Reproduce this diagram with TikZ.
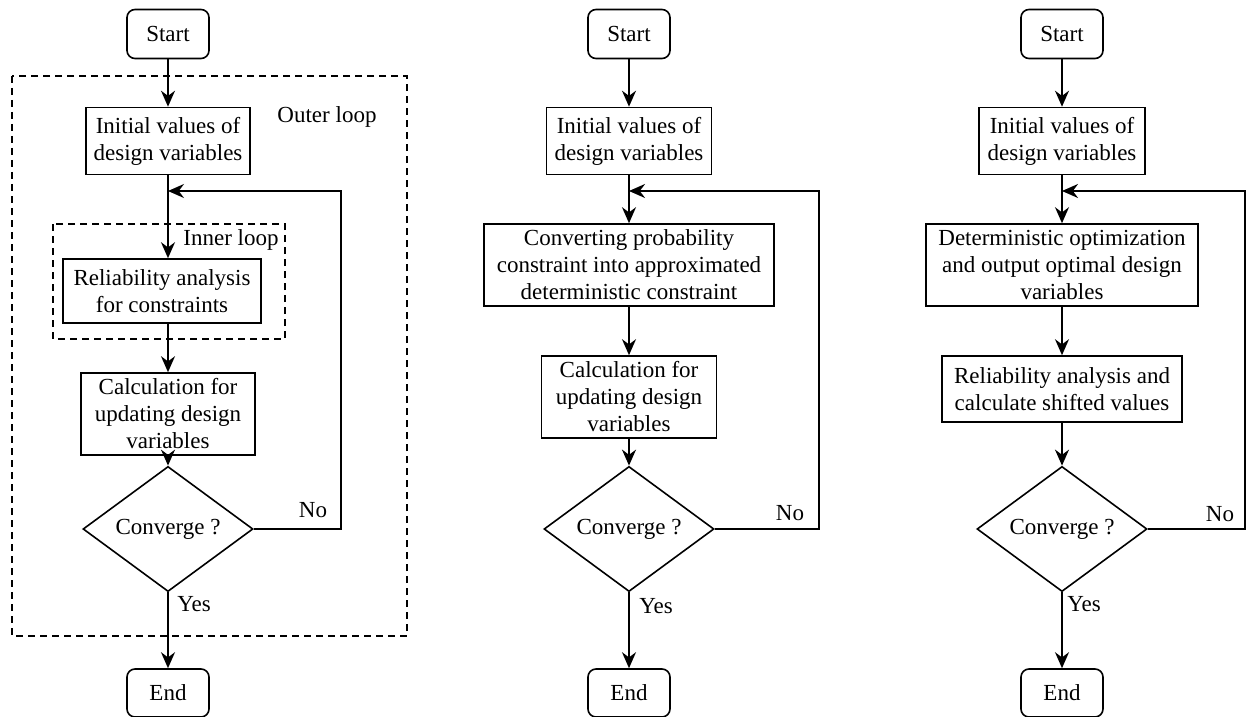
\documentclass[tikz,border=0pt]{standalone}
\usepackage{fontspec}
\setmainfont{Liberation Serif}
\usetikzlibrary{shapes.geometric,arrows.meta}

\begin{document}
\begin{tikzpicture}[x=0.5pt,y=-0.5pt,
  every node/.style={font=\fontsize{11.5}{13.5}\selectfont, align=center, inner sep=1pt},
  procbox/.style={draw, line width=0.8pt, rectangle, minimum width=#1, inner sep=2pt},
  procbox/.default=80pt,
  termbox/.style={draw, line width=0.8pt, rounded corners=4pt, minimum width=41pt, minimum height=24.5pt},
  decide/.style={draw, line width=0.8pt, diamond, minimum width=85pt, minimum height=41pt, inner sep=0pt},
  flow/.style={line width=0.9pt, -{Stealth[length=8pt,width=7pt,inset=2.6pt]}},
  loopframe/.style={line width=0.6pt, dash pattern=on 3.5pt off 2.5pt},
  tag/.style={inner sep=0pt}
]
\useasboundingbox (0,0) rectangle (1248,717);

% ---------- Column 1: double loop ----------
\node[termbox] (s1) at (168,34) {Start};
\node[procbox=82pt, minimum height=33.5pt] (i1) at (168,141) {Initial values of\\design variables};
\node[procbox=99pt, minimum height=32pt] (r1) at (162,291) {Reliability analysis\\for constraints};
\node[procbox=87pt, minimum height=41pt] (c1) at (168,414) {Calculation for\\updating design\\variables};
\node[decide] (d1) at (168,529) {Converge ?};
\node[termbox, minimum height=24pt] (e1) at (168,693) {End};
\coordinate (j1) at (168,191);
\coordinate (f1) at (341,191);

\draw[loopframe] (12,76) rectangle (407,636);
\draw[loopframe] (53,224) rectangle (285,339);
\node[tag] (ol) at (327,117) {Outer loop};
\node[tag] (il) at (231,240) {Inner loop};

\draw[flow] (s1) -- (i1);
\draw[flow] (i1.south) -- (r1.north -| i1.south);
\draw[flow] (r1.south -| c1.north) -- (c1.north);
\draw[flow] (c1) -- (d1);
\draw[flow] (d1) -- (e1);
\draw[flow] (d1.east) -| (f1) -- (j1);
\node[tag] (n1) at (313,510) {No};
\node[tag, anchor=west] (y1) at (177,604) {Yes};

% ---------- Column 2: single loop ----------
\node[termbox] (s2) at (629,34) {Start};
\node[procbox=82.5pt, minimum height=33.5pt] (i2) at (629,141) {Initial values of\\design variables};
\node[procbox=145pt, minimum height=41pt] (v2) at (629,265) {Converting probability\\constraint into approximated\\deterministic constraint};
\node[procbox=87.5pt, minimum height=41pt] (c2) at (629,397) {Calculation for\\updating design\\variables};
\node[decide] (d2) at (629,529) {Converge ?};
\node[termbox, minimum height=24pt] (e2) at (629,693) {End};
\coordinate (j2) at (629,191);
\coordinate (f2) at (819,191);

\draw[flow] (s2) -- (i2);
\draw[flow] (i2) -- (v2);
\draw[flow] (v2) -- (c2);
\draw[flow] (c2) -- (d2);
\draw[flow] (d2) -- (e2);
\draw[flow] (d2.east) -| (f2) -- (j2);
\node[tag] (n2) at (790,513) {No};
\node[tag, anchor=west] (y2) at (639,606) {Yes};

% ---------- Column 3: decoupled loop ----------
\node[termbox] (s3) at (1062,34) {Start};
\node[procbox=83pt, minimum height=33.5pt] (i3) at (1062,141) {Initial values of\\design variables};
\node[procbox=136pt, minimum height=41pt] (o3) at (1062,265) {Deterministic optimization\\and output optimal design\\variables};
\node[procbox=120pt, minimum height=33pt] (r3) at (1062,389) {Reliability analysis and\\calculate shifted values};
\node[decide] (d3) at (1062,529) {Converge ?};
\node[termbox, minimum height=24pt] (e3) at (1062,693) {End};
\coordinate (j3) at (1062,191);
\coordinate (f3) at (1245,191);

\draw[flow] (s3) -- (i3);
\draw[flow] (i3) -- (o3);
\draw[flow] (o3) -- (r3);
\draw[flow] (r3) -- (d3);
\draw[flow] (d3) -- (e3);
\draw[flow] (d3.east) -| (f3) -- (j3);
\node[tag] (n3) at (1220,514) {No};
\node[tag, anchor=west] (y3) at (1067,604) {Yes};
\end{tikzpicture}
\end{document}
